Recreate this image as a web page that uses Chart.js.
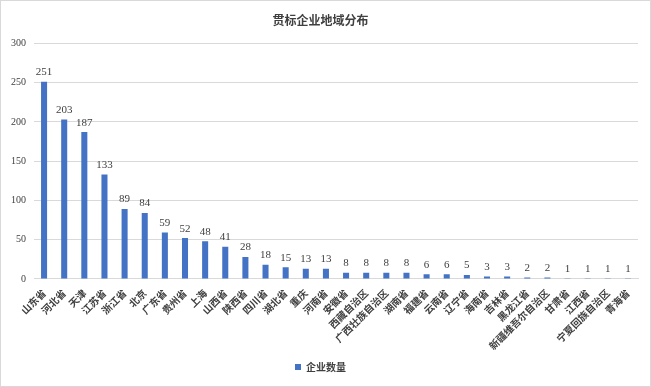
<!DOCTYPE html>
<html>
<head>
<meta charset="utf-8">
<script src="https://cdn.jsdelivr.net/npm/chart.js@4.4.0/dist/chart.umd.min.js"></script>
<style>
  html, body { margin: 0; padding: 0; background: #fff; }
  #wrap { width: 649px; height: 385px; border: 1px solid #d9d9d9; }
</style>
</head>
<body>
<div id="wrap"><canvas id="myChart" width="649" height="385"></canvas></div>
<script>
let regions = ["山东省", "河北省", "天津", "江苏省", "浙江省", "北京", "广东省", "贵州省", "上海", "山西省",
  "陕西省", "四川省", "湖北省", "重庆", "河南省", "安徽省", "西藏自治区", "广西壮族自治区", "湖南省", "福建省",
  "云南省", "辽宁省", "海南省", "吉林省", "黑龙江省", "新疆维吾尔自治区", "甘肃省", "江西省", "宁夏回族自治区", "青海省"];
let counts = [251, 203, 187, 133, 89, 84, 59, 52, 48, 41, 28, 18, 15, 13, 13, 8, 8, 8, 8, 6, 6, 5, 3, 3, 2, 2, 1, 1, 1, 1];
let yTicks = [0, 50, 100, 150, 200, 250, 300];

let cjk = '"Noto Sans CJK SC", sans-serif';
let num = '"Liberation Serif", serif';

// value labels above each bar
let valueLabels = {
  id: 'valueLabels',
  afterDatasetsDraw(chart) {
    let c = chart.ctx;
    let meta = chart.getDatasetMeta(0);
    c.save();
    c.font = '11px ' + num;
    c.fillStyle = '#404040';
    c.textAlign = 'center';
    c.textBaseline = 'bottom';
    meta.data.forEach((bar, i) => {
      c.fillText(counts[i], bar.x, bar.y - 4);
    });
    c.restore();
  }
};

let ctx = document.getElementById('myChart').getContext('2d');
let myChart = new Chart(ctx, {
  type: 'bar',
  data: {
    labels: regions,
    datasets: [{
      label: '企业数量',
      data: counts,
      backgroundColor: '#4472C4',
      barPercentage: 0.6,
      categoryPercentage: 0.5
    }]
  },
  options: {
    responsive: false,
    animation: false,
    layout: { padding: { left: 2, right: 12, top: 4, bottom: 4 } },
    plugins: {
      title: {
        display: true,
        text: '贯标企业地域分布',
        color: '#404040',
        font: { family: cjk, size: 12, weight: 'bold' },
        padding: { top: 8, bottom: 16 }
      },
      legend: {
        position: 'bottom',
        labels: {
          color: '#404040',
          font: { family: cjk, size: 10, weight: 'bold' },
          boxWidth: 6,
          boxHeight: 6
        }
      },
      tooltip: { enabled: false }
    },
    scales: {
      x: {
        grid: { display: false },
        border: { color: '#d9d9d9' },
        ticks: {
          color: '#404040',
          maxRotation: 45,
          minRotation: 45,
          autoSkip: false,
          padding: 0,
          font: { family: cjk, size: 10, weight: 'bold' }
        }
      },
      y: {
        min: 0,
        max: 300,
        afterBuildTicks: (axis) => { axis.ticks = yTicks.map(v => ({ value: v })); },
        grid: { color: '#d9d9d9', drawTicks: false },
        border: { display: false },
        ticks: {
          color: '#404040',
          padding: 8,
          font: { family: num, size: 10 }
        }
      }
    }
  },
  plugins: [valueLabels]
});
</script>
</body>
</html>
